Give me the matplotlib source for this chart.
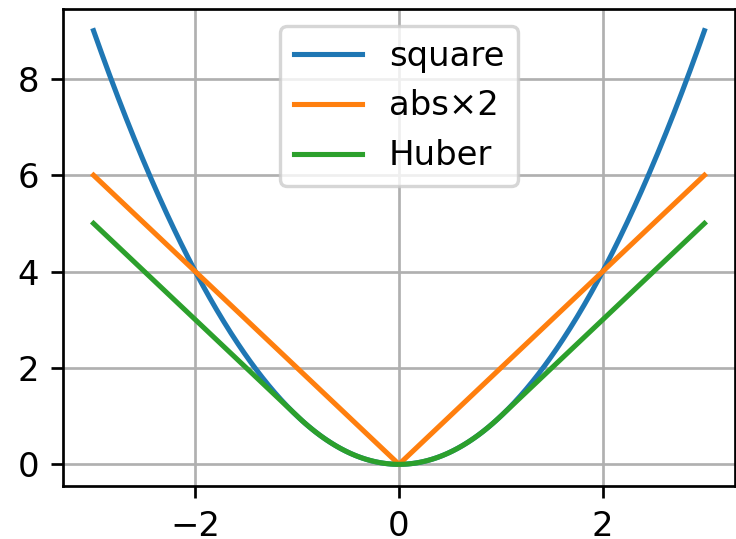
import numpy as np
import matplotlib
matplotlib.use("Agg")
import matplotlib.pyplot as plt

# x range of the curves and Huber threshold
x_min, x_max = -3, 3
delta = 1.0
labels = ["square", "abs×2", "Huber"]
xticks = [-2, 0, 2]
yticks = [0, 2, 4, 6, 8]

x = np.linspace(x_min, x_max, 601)
square = x ** 2
abs2 = 2 * np.abs(x)
huber = np.where(np.abs(x) <= delta, x ** 2, 2 * delta * np.abs(x) - delta ** 2)

dpi = 244
fig = plt.figure(figsize=(736 / dpi, 539 / dpi), dpi=dpi)
ax = fig.add_axes([0.0856, 0.0983, 0.913, 0.885])
ax.plot(x, square, label=labels[0])
ax.plot(x, abs2, label=labels[1])
ax.plot(x, huber, label=labels[2])
ax.set_xticks(xticks)
ax.set_yticks(yticks)
ax.grid(True)
ax.legend(loc="upper center")
fig.savefig("out.png", dpi=dpi)
